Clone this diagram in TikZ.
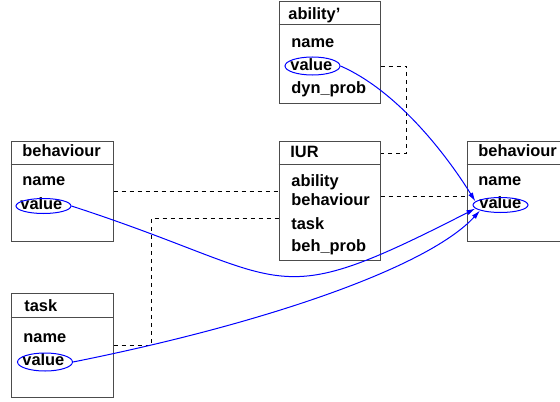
\documentclass[tikz,border=0pt]{standalone}
\usepackage{fontspec}
\setmainfont{Liberation Sans}
\usetikzlibrary{arrows.meta}
\usetikzlibrary{shapes.geometric}

\tikzset{
  box/.style={draw=black!70, line width=0.5pt, rectangle, inner sep=0pt},
  txt/.style={anchor=west, inner sep=0pt, font=\fontsize{8.2}{10}\selectfont\bfseries, text height=6pt, text depth=1.6pt},
  oval/.style={draw=blue, ellipse, inner sep=0pt, minimum width=27.5pt, line width=0.5pt},
  link/.style={dash pattern=on 2pt off 2pt, line width=0.45pt},
  flow/.style={draw=blue, line width=0.5pt, -{Latex[length=4.5pt,width=2.6pt]}},
}

\begin{document}
\begin{tikzpicture}[x=0.5pt,y=-0.5pt]
\useasboundingbox (0,0) rectangle (560,401);

    % the five boxes
    \node[box, minimum width=50.5pt, minimum height=50.5pt] (abil) at (329.5,52.5) {};
    \node[box, minimum width=50.5pt, minimum height=59.5pt] (iur) at (329.5,200.5) {};
    \node[box, minimum width=51pt, minimum height=50pt] (behL) at (62,191) {};
    \node[box, minimum width=51pt, minimum height=52pt] (task) at (62,345) {};
    \node[box, minimum width=51pt, minimum height=50pt] (behR) at (518,191) {};

    \draw[black!70, line width=0.5pt] (abil.north west) ++(0,23) -- ++(101,0);
    \draw[black!70, line width=0.5pt] (iur.north west) ++(0,24) -- ++(101,0);
    \draw[black!70, line width=0.5pt] (behL.north west) ++(0,24) -- ++(102,0);
    \draw[black!70, line width=0.5pt] (task.north west) ++(0,25) -- ++(102,0);
    \draw[black!70, line width=0.5pt] (behR.north west) ++(0,24) -- ++(102,0);

    % titles
    \node[txt] (abilT) at (288,15.5) {ability'};
    \node[txt] (iurT) at (290,153.5) {IUR};
    \node[txt] (behLT) at (22,152) {behaviour};
    \node[txt] (taskT) at (24,307.5) {task};
    \node[txt] (behRT) at (478,152) {behaviour};

    % rows
    \node[txt] (abilN) at (291,43) {name};
    \node[txt] (abilV) at (290,66) {value};
    \node[txt] (abilD) at (291,89) {dyn\_prob};

    \node[txt] (iurA) at (291,182) {ability};
    \node[txt] (iurB) at (291,201.5) {behaviour};
    \node[txt] (iurK) at (291,225.5) {task};
    \node[txt] (iurP) at (291,247) {beh\_prob};

    \node[txt] (behLN) at (22,181) {name};
    \node[txt] (behLV) at (20,205) {value};

    \node[txt] (taskN) at (23,338.5) {name};
    \node[txt] (taskV) at (22,361.5) {value};

    \node[txt] (behRN) at (478,181) {name};
    \node[txt] (behRV) at (479,204) {value};

    % ovals round the values
    \node[oval, minimum height=9pt] (abilE) at (312.5,66) {};
    \node[oval, minimum height=7.5pt] (behLE) at (43.5,206) {};
    \node[oval, minimum height=9pt] (taskE) at (45,362) {};
    \node[oval, minimum height=7.5pt] (behRE) at (500.5,205) {};

    % dashed links
    \coordinate (tk) at (151,218);
    \coordinate (ib) at (430,196);
    \draw[link] (abil.east |- abilE) -- ++(26,0) |- (iurT -| iur.east);
    \draw[link] (behL.east) -- (behL.east -| iur.west);
    \draw[link] (task.east) -- (task.east -| tk) -- (tk) -- (tk -| iur.west);
    \draw[link] (ib -| iur.east) -- (ib -| behR.west);

    % value flows
    \draw[flow] (abilE.east) .. controls +(55,24) and +(-31,-50) .. (behRE.172);
    \draw[flow] (behLE.east) .. controls +(225,73) and +(-211,108) .. (behRE.188);
    \draw[flow] (taskE.east) .. controls +(200,-40) and +(-50,55) .. (behRE.195);

\end{tikzpicture}
\end{document}
